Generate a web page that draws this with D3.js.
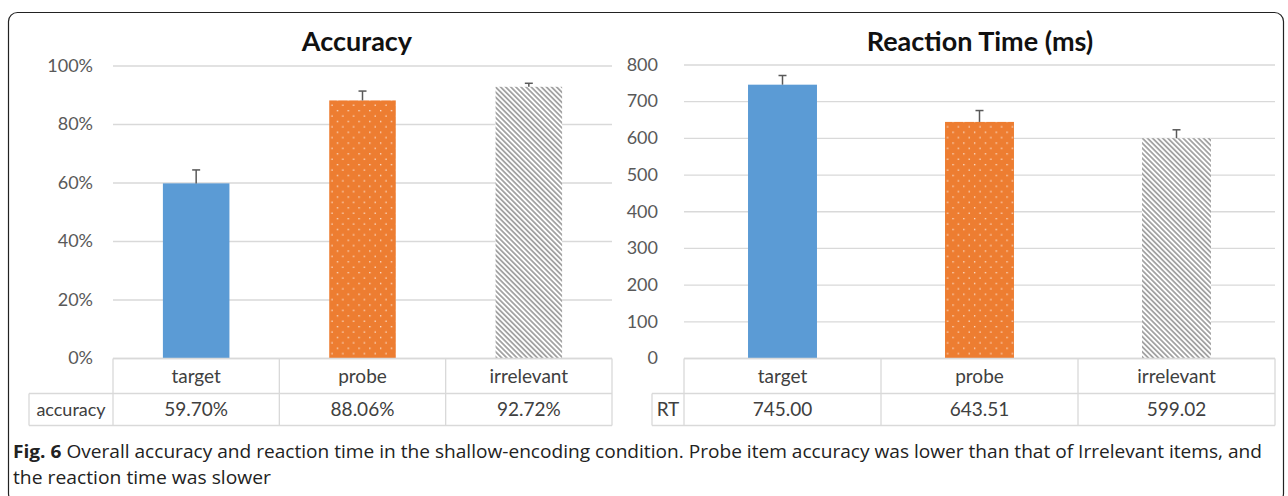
<!DOCTYPE html>
<html><head><meta charset="utf-8">
<script src="https://cdn.jsdelivr.net/npm/d3@7"></script>
<style>
html,body{margin:0;padding:0;background:#fff;}
svg{display:block;}
</style></head>
<body>
<svg id="c" width="1288" height="496"></svg>
<script>
// ---- data ----
const categories = ["target", "probe", "irrelevant"];
const accuracyValues = [0.5970, 0.8806, 0.9272];
const accuracyErrors = [0.046, 0.032, 0.012];
const accuracyLabels = ["59.70%", "88.06%", "92.72%"];
const accuracyTicks = [0, 0.2, 0.4, 0.6, 0.8, 1.0];
const rtValues = [745.00, 643.51, 599.02];
const rtErrors = [25, 31, 23];
const rtLabels = ["745.00", "643.51", "599.02"];
const rtTicks = [0, 100, 200, 300, 400, 500, 600, 700, 800];
const titles = ["Accuracy", "Reaction Time (ms)"];
const rowNames = ["accuracy", "RT"];
const captionBold = "Fig. 6";
const captionLine1 = " Overall accuracy and reaction time in the shallow-encoding condition. Probe item accuracy was lower than that of Irrelevant items, and";
const captionLine2 = "the reaction time was slower";

const svg = d3.select("#c");
const FONT = "Lato, 'Open Sans', sans-serif";
const GRID = "#d9d9d9";

// patterns
const defs = svg.append("defs");
const pDots = defs.append("pattern").attr("id","dots").attr("patternUnits","userSpaceOnUse")
  .attr("width",10.8).attr("height",10.8);
pDots.append("rect").attr("width",10.8).attr("height",10.8).attr("fill","#ed7d31");
pDots.append("rect").attr("x",2).attr("y",2).attr("width",1.3).attr("height",1.3).attr("fill","#fff").attr("opacity",0.8);
pDots.append("rect").attr("x",7.4).attr("y",7.4).attr("width",1.3).attr("height",1.3).attr("fill","#fff").attr("opacity",0.8);
const pDiag = defs.append("pattern").attr("id","diag").attr("patternUnits","userSpaceOnUse")
  .attr("width",3.6).attr("height",3.6).attr("patternTransform","rotate(-45)");
pDiag.append("rect").attr("width",3.6).attr("height",3.6).attr("fill","#fff");
pDiag.append("rect").attr("x",0).attr("y",0).attr("width",1.8).attr("height",3.6).attr("fill","#a3a3a3");
const fills = ["#5b9bd5", "url(#dots)", "url(#diag)"];

// outer frame
svg.append("rect").attr("x",8.5).attr("y",12.5).attr("width",1275).attr("height",490)
  .attr("rx",9).attr("fill","none").attr("stroke","#222").attr("stroke-width",1.2);

function panel(cfg){
  const g = svg.append("g");
  const x = d3.scaleBand().domain(categories).range([cfg.x0, cfg.x1]).padding(0);
  const y = d3.scaleLinear().domain(cfg.domain).range([358, cfg.yTop]);
  const ax = d3.axisLeft(y).tickValues(cfg.ticks).tickFormat(cfg.fmt)
    .tickSize(-(cfg.x1 - cfg.x0)).tickPadding(cfg.pad);
  const ag = g.append("g").attr("transform",`translate(${cfg.x0},0)`).call(ax);
  ag.select(".domain").remove();
  ag.selectAll(".tick line").attr("stroke",GRID).attr("stroke-width",1.3);
  ag.selectAll(".tick text").attr("fill","#595959").attr("font-family",FONT).attr("font-size",18);
  g.append("text").attr("x",cfg.titleX).attr("y",51).attr("text-anchor","middle")
    .attr("font-family",FONT).attr("font-weight","bold").attr("font-size",27).attr("fill","#111")
    .text(cfg.title);
  const bw = x.bandwidth()*cfg.barFrac;
  g.selectAll("rect.bar").data(cfg.values).join("rect").attr("class","bar")
    .attr("x",(d,i)=>x(categories[i]) + x.bandwidth()/2 - bw/2)
    .attr("y",d=>y(d)).attr("width",bw).attr("height",d=>y(0)-y(d))
    .attr("fill",(d,i)=>fills[i]);
  cfg.values.forEach((v,i)=>{
    const cx = x(categories[i]) + x.bandwidth()/2;
    g.append("line").attr("x1",cx).attr("x2",cx).attr("y1",y(v)).attr("y2",y(v+cfg.errs[i]))
      .attr("stroke","#595959").attr("stroke-width",1.5);
    g.append("line").attr("x1",cx-4).attr("x2",cx+4).attr("y1",y(v+cfg.errs[i])).attr("y2",y(v+cfg.errs[i]))
      .attr("stroke","#595959").attr("stroke-width",1.5);
  });
  const tTop = 358.5, tMid = 393.5, tBot = 425.5;
  const lines = g.append("g").attr("stroke",GRID).attr("stroke-width",1.3).attr("fill","none");
  lines.append("line").attr("x1",cfg.x0).attr("x2",cfg.x1).attr("y1",tTop).attr("y2",tTop);
  lines.append("line").attr("x1",cfg.labX).attr("x2",cfg.x1).attr("y1",tMid).attr("y2",tMid);
  lines.append("line").attr("x1",cfg.labX).attr("x2",cfg.x1).attr("y1",tBot).attr("y2",tBot);
  lines.append("line").attr("x1",cfg.labX).attr("x2",cfg.labX).attr("y1",tMid).attr("y2",tBot);
  [...categories.map(c=>x(c)), cfg.x1].forEach(xx=>{
    lines.append("line").attr("x1",xx).attr("x2",xx).attr("y1",tTop).attr("y2",tBot);
  });
  categories.forEach((c,i)=>{
    const cx = x(c)+x.bandwidth()/2;
    g.append("text").attr("x",cx).attr("y",383).attr("text-anchor","middle")
      .attr("font-family",FONT).attr("font-size",19).attr("fill","#404040").text(c);
    g.append("text").attr("x",cx).attr("y",416).attr("text-anchor","middle")
      .attr("font-family",FONT).attr("font-size",19).attr("fill","#404040").text(cfg.labels[i]);
  });
  g.append("text").attr("x",(cfg.labX+cfg.x0)/2).attr("y",416).attr("text-anchor","middle")
    .attr("font-family",FONT).attr("font-size",cfg.rowFont).attr("fill","#404040").text(cfg.rowName);
}

panel({x0:113, x1:612, labX:29, yTop:65.5, domain:[0,1], ticks:accuracyTicks,
  fmt:d3.format(".0%"), pad:20, values:accuracyValues, errs:accuracyErrors, labels:accuracyLabels,
  title:titles[0], titleX:357, barFrac:0.4, rowName:rowNames[0], rowFont:18});
panel({x0:684, x1:1275, labX:652, yTop:64.5, domain:[0,800], ticks:rtTicks,
  fmt:d3.format("d"), pad:26, values:rtValues, errs:rtErrors, labels:rtLabels,
  title:titles[1], titleX:980, barFrac:0.35, rowName:rowNames[1], rowFont:19});

// caption
const cap = svg.append("text").attr("x",13).attr("y",458)
  .attr("font-family","'Liberation Sans Narrow', 'Open Sans', sans-serif").attr("font-size",18).attr("fill","#222")
  .attr("textLength",1249).attr("lengthAdjust","spacingAndGlyphs");
cap.append("tspan").attr("font-weight","bold").text(captionBold);
cap.append("tspan").text(captionLine1);
svg.append("text").attr("x",13).attr("y",484)
  .attr("font-family","'Liberation Sans Narrow', 'Open Sans', sans-serif").attr("font-size",18).attr("fill","#222")
  .attr("textLength",258).attr("lengthAdjust","spacingAndGlyphs")
  .text(captionLine2);
</script>
</body></html>
